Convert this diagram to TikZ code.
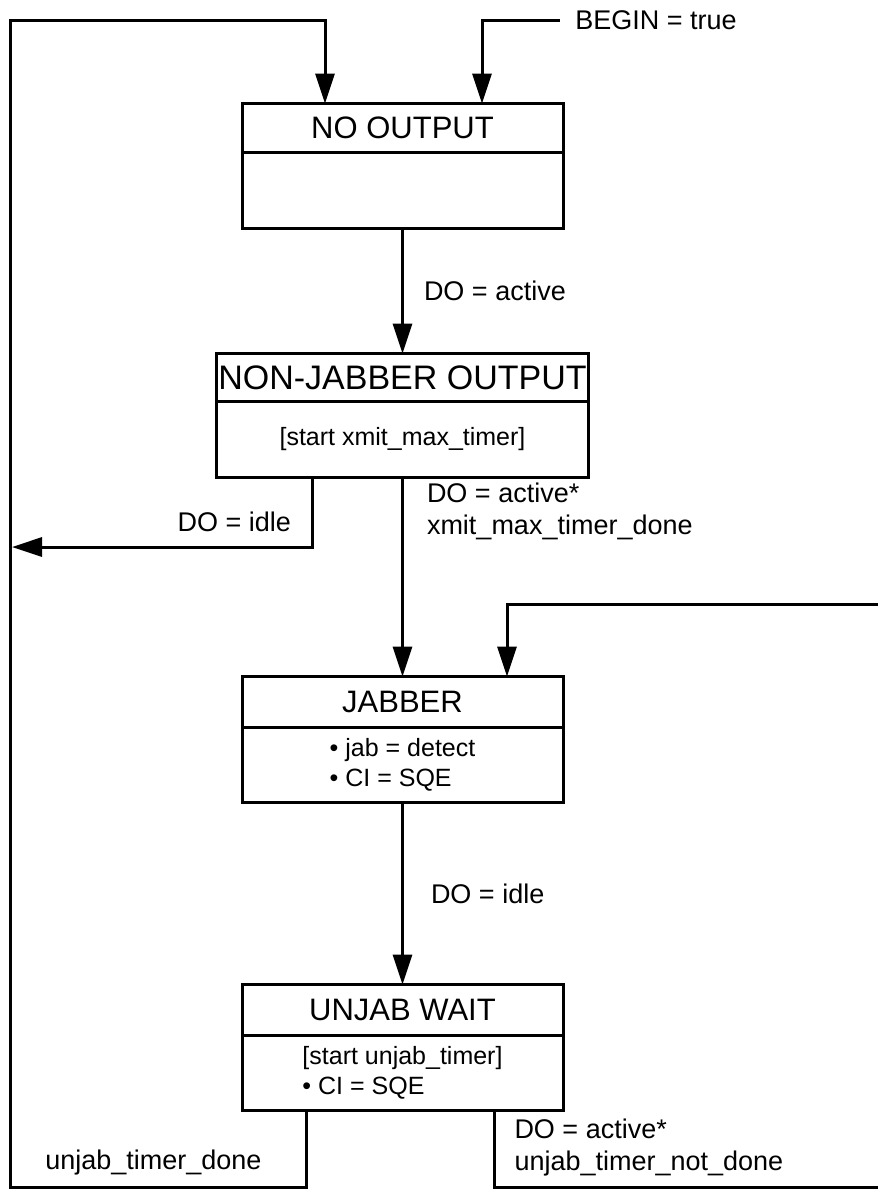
\documentclass[tikz,border=0pt]{standalone}
\usepackage{fontspec}
\setmainfont{Liberation Sans}
\usetikzlibrary{arrows.meta,calc,positioning}
\tikzset{
  estado/.style={
    draw=black,
    line width=1.5pt,
    outer sep=0pt,
    minimum width=160.5pt,
    minimum height=24.5pt,
    inner sep=0pt,
    font=\fontsize{15.5}{18}\selectfont
  },
  cuerpo/.style={
    draw=black,
    line width=1.5pt,
    outer sep=0pt,
    minimum width=160.5pt,
    minimum height=37.5pt,
    inner sep=0pt,
    align=left,
    font=\fontsize{12.5}{15}\selectfont
  },
  etiqueta/.style={
    align=left,
    inner sep=0pt,
    font=\fontsize{13.5}{16}\selectfont
  },
  arrow/.style={
    -{Triangle[length=15pt,width=9.5pt]},
    line width=1.5pt
  }
}

\begin{document}
\begin{tikzpicture}[x=0.5pt,y=-0.5pt]
\useasboundingbox (0,0) rectangle (878,1190);

% esquinas de los lazos de retorno
\coordinate (izqarriba) at (10,20);
\coordinate (izqabajo) at (10,1187);
\coordinate (derarriba) at (892,604);
\coordinate (derabajo) at (892,1187);
\coordinate (retorno) at (12,547);

\node[estado] (no) at (402.5,128) {NO OUTPUT};
\node[cuerpo, below=0pt of no, minimum height=38pt] (nob) {};

\node[estado, below=62.5pt of nob, minimum width=186pt, minimum height=24pt,
  font=\fontsize{17}{20}\selectfont] (nj) {NON-JABBER OUTPUT};
\node[cuerpo, below=0pt of nj, minimum width=186pt, minimum height=38pt] (njb) {[start xmit\_max\_timer]};

\node[estado, below=99.5pt of njb, minimum height=25.5pt] (jab) {JABBER};
\node[cuerpo, below=0pt of jab] (jabb) {• jab = detect\\• CI = SQE};

\node[estado, below=91pt of jabb, minimum height=25.5pt] (uw) {UNJAB WAIT};
\node[cuerpo, below=0pt of uw] (uwb) {[start unjab\_timer]\\• CI = SQE};

\node[etiqueta, anchor=west] (begin) at (575,20) {BEGIN = true};

\draw[arrow] ([xshift=-7.5pt]begin.west) -| ([xshift=120pt]no.north west);
\draw[arrow] (nob.south) -- node[etiqueta, right=10pt] {DO = active} (nj.north);
\draw[arrow] (njb.south) -- node[etiqueta, pos=0, anchor=north west, xshift=11.5pt, yshift=-2pt]
  {DO = active*\\xmit\_max\_timer\_done} (jab.north);
\draw[arrow] ([xshift=48pt]njb.south west) |- node[etiqueta, pos=.32, left=10pt] {DO = idle} (retorno);
\draw[arrow] (jabb.south) -- node[etiqueta, right=13.5pt] {DO = idle} (uw.north);

\draw[arrow] ([xshift=32pt]uwb.south west) |- node[etiqueta, pos=.34, left=21.5pt] {unjab\_timer\_done} (izqabajo)
  -- (izqarriba) -| ([xshift=41.5pt]no.north west);
\draw[arrow] ([xshift=126pt]uwb.south west) |- node[etiqueta, pos=.24, right=9.5pt]
  {DO = active*\\unjab\_timer\_not\_done} (derabajo) -- (derarriba) -| ([xshift=132.5pt]jab.north west);
\end{tikzpicture}
\end{document}
